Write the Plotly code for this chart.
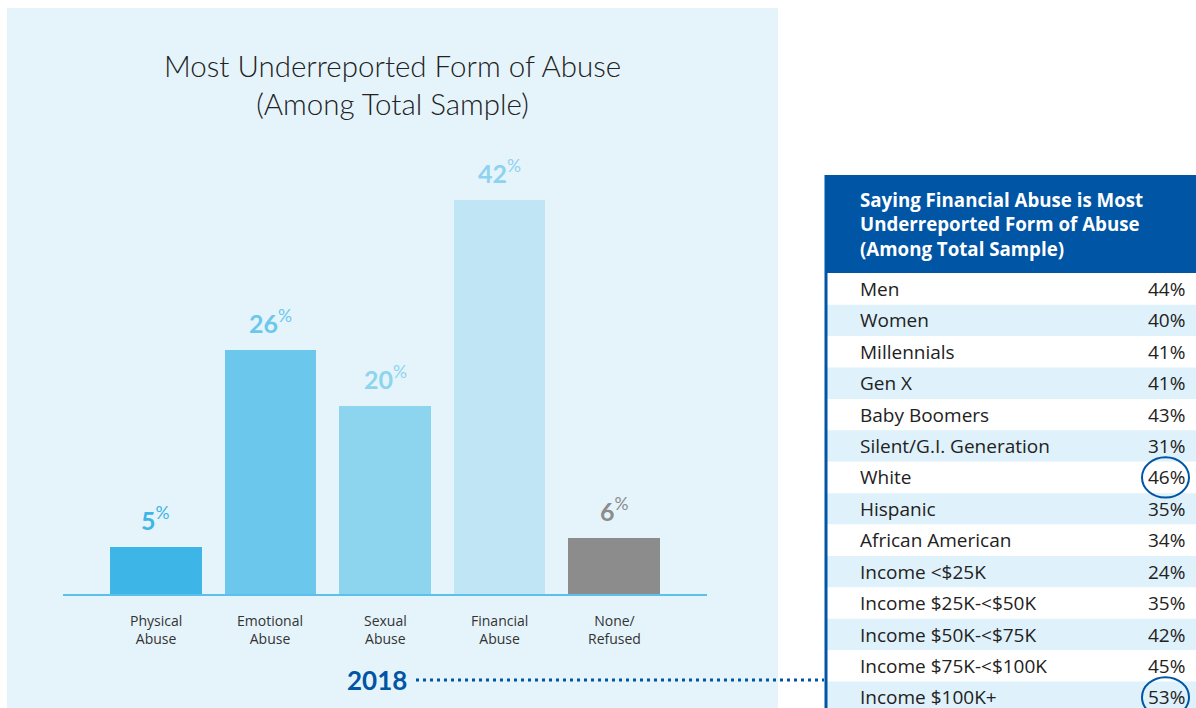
import plotly.graph_objects as go

# bar chart data
categories = ["Physical<br>Abuse", "Emotional<br>Abuse", "Sexual<br>Abuse", "Financial<br>Abuse", "None/<br>Refused"]
values = [5, 26, 20, 42, 6]
bar_colors = ["#3db5e6", "#6cc7ec", "#8dd4ef", "#c0e6f6", "#8c8c8c"]
label_colors = ["#3db5e6", "#6cc7ec", "#8dd4ef", "#8fd2f0", "#8c8c8c"]

# side table data
groups = ["Men", "Women", "Millennials", "Gen X", "Baby Boomers", "Silent/G.I. Generation",
          "White", "Hispanic", "African American", "Income <$25K", "Income $25K-<$50K",
          "Income $50K-<$75K", "Income $75K-<$100K", "Income $100K+"]
shares = [44, 40, 41, 41, 43, 31, 46, 35, 34, 24, 35, 42, 45, 53]
circled = ["White", "Income $100K+"]

year = "2018"
title = "Most Underreported Form of Abuse<br>(Among Total Sample)"
table_title = "Saying Financial Abuse is Most<br>Underreported Form of Abuse<br>(Among Total Sample)"

W, H = 1196, 708
BLUE = "#0055a5"
FONT = "Lato"
TFONT = "Open Sans"


def px(x):
    return x / W


def py(y):
    return 1 - y / H


fig = go.Figure()

xs = list(range(len(categories)))
fig.add_trace(go.Bar(x=xs, y=values, marker=dict(color=bar_colors, line=dict(width=0)),
                     width=0.8, hoverinfo="skip", xaxis="x", yaxis="y"))

shapes = []
annotations = []

# light blue panel behind the chart
shapes.append(dict(type="rect", xref="paper", yref="paper", x0=px(7), x1=px(778), y0=0, y1=py(8),
                   fillcolor="#e5f4fb", line=dict(width=0), layer="below"))

for i, (v, c) in enumerate(zip(values, label_colors)):
    annotations.append(dict(x=i, y=v, xref="x", yref="y", yanchor="bottom", yshift=10,
                            text="<b>%d</b><sup>%%</sup>" % v, showarrow=False,
                            font=dict(family=FONT, size=25, color=c)))
    annotations.append(dict(x=i, y=0, xref="x", yref="y", yanchor="top", yshift=-15,
                            text=categories[i], showarrow=False,
                            font=dict(family=TFONT, size=14, color="#333333")))

annotations.append(dict(x=px(392), y=py(85), xref="paper", yref="paper", xanchor="center",
                        yanchor="middle", text=title, showarrow=False,
                        font=dict(family=FONT, size=29.5, color="#222222", weight=300)))

# 2018 + dotted connector
annotations.append(dict(x=px(377), y=py(680), xref="paper", yref="paper", xanchor="center",
                        yanchor="middle", text="<b>%s</b>" % year, showarrow=False,
                        font=dict(family=FONT, size=26, color=BLUE)))
shapes.append(dict(type="line", xref="paper", yref="paper", x0=px(416), x1=px(824), y0=py(680), y1=py(680),
                   line=dict(color=BLUE, width=3, dash="3px,4px")))

# table rows
for i, (g, s) in enumerate(zip(groups, shares)):
    fill = "#ffffff" if i % 2 == 0 else "#dff1fa"
    shapes.append(dict(type="rect", xref="x2", yref="y2", x0=0, x1=371, y0=i - 0.5, y1=i + 0.5,
                       fillcolor=fill, line=dict(width=0), layer="below"))
    annotations.append(dict(x=33, y=i, xref="x2", yref="y2", xanchor="left", text=g, showarrow=False,
                            font=dict(family=TFONT, size=19, color="#222222")))
    annotations.append(dict(x=362, y=i, xref="x2", yref="y2", xanchor="right", text="%d%%" % s,
                            showarrow=False, font=dict(family=TFONT, size=19, color="#222222")))
    if g in circled:
        shapes.append(dict(type="circle", xref="x2", yref="y2", x0=317, x1=364, y0=i - 0.64, y1=i + 0.64,
                           line=dict(color=BLUE, width=2)))

# table header
shapes.append(dict(type="rect", xref="paper", yref="paper", x0=px(825), x1=1, y0=py(273), y1=py(175),
                   fillcolor=BLUE, line=dict(width=0)))
annotations.append(dict(x=px(858), y=py(185), xref="paper", yref="paper", xanchor="left", yanchor="top",
                        align="left", text="<b>%s</b>" % table_title, showarrow=False,
                        font=dict(family=TFONT, size=18.7, color="white")))
shapes.append(dict(type="line", xref="paper", yref="paper", x0=px(826), x1=px(826), y0=0, y1=py(175),
                   line=dict(color=BLUE, width=3)))

fig.update_layout(
    width=W, height=H, margin=dict(l=0, r=0, t=0, b=0),
    paper_bgcolor="white", plot_bgcolor="rgba(0,0,0,0)",
    showlegend=False, bargap=0,
    xaxis=dict(domain=[px(63), px(707)], range=[-0.812, 4.812], showgrid=False, zeroline=False,
               showticklabels=False, showline=True, linecolor="#5bc0eb", linewidth=2, fixedrange=True),
    yaxis=dict(domain=[py(594), py(160)], range=[0, 46.27], showgrid=False, zeroline=False,
               showticklabels=False, fixedrange=True),
    xaxis2=dict(domain=[px(825), 1], range=[0, 371], visible=False, anchor="y2", fixedrange=True),
    yaxis2=dict(domain=[0, py(273.3)], range=[13.34, -0.5], visible=False, anchor="x2", fixedrange=True),
    shapes=shapes, annotations=annotations,
)

# drop the default page margin so the figure fills the window exactly
fig.write_html("out.html", config={"displayModeBar": False},
               post_script="document.body.style.margin='0';document.body.style.overflow='hidden';")
